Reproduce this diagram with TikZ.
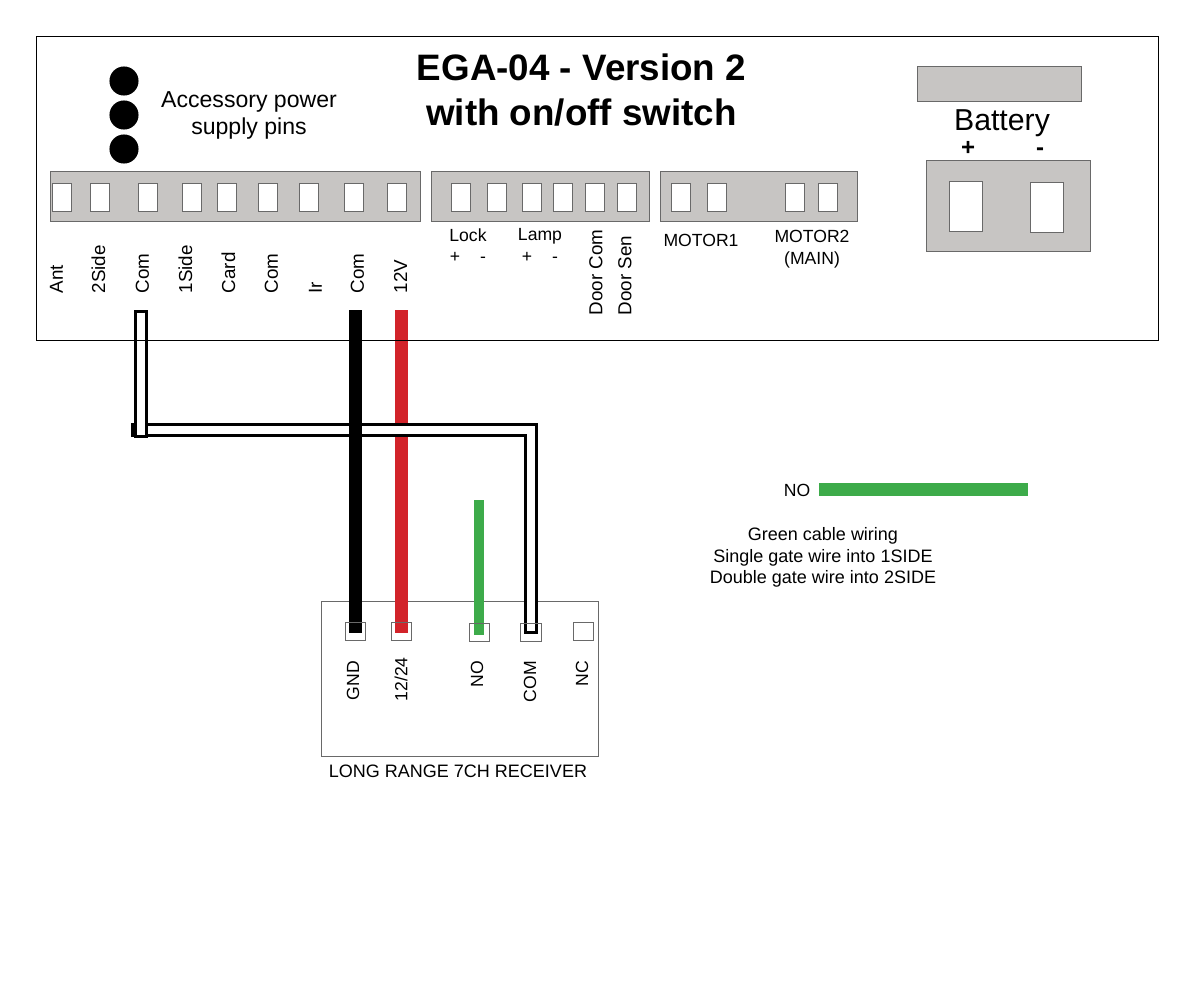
\documentclass[tikz,border=0pt]{standalone}
\usepackage{fontspec}
\setmainfont{Liberation Sans}
\usetikzlibrary{positioning}
\definecolor{stripgray}{RGB}{199, 197, 195}
\definecolor{edgegray}{RGB}{105, 105, 105}
\definecolor{wirered}{RGB}{210, 35, 42}
\definecolor{wiregreen}{RGB}{61, 171, 74}

\begin{document}
\begin{tikzpicture}[
        x=0.75pt, y=-0.75pt,
        strip/.style={rectangle, draw=edgegray, fill=stripgray, line width=0.6pt, inner sep=0pt, outer sep=0pt},
        pin/.style={rectangle, draw=edgegray, fill=white, line width=0.7pt, inner sep=0pt, outer sep=0pt,
                    minimum width=14.6pt, minimum height=21pt},
        battpin/.style={pin, line width=0.5pt, minimum width=24.6pt, minimum height=37.5pt},
        rxpin/.style={pin, fill=none, line width=0.6pt, minimum width=15.4pt, minimum height=13.5pt},
        dot/.style={circle, fill=black, inner sep=0pt, minimum size=21.8pt},
        lab/.style={font=\fontsize{13.2pt}{15.5pt}\selectfont, align=center, inner sep=0pt},
        vlab/.style={lab, font=\fontsize{14.1pt}{16pt}\selectfont, rotate=90, anchor=west},
        rxlab/.style={lab, rotate=90, anchor=east},
        wire/.style={line width=9.8pt},
        wireout/.style={line width=10.4pt, black},
        wirein/.style={line width=6.6pt, white},
    ]
        \useasboundingbox (0,0) rectangle (1200,1000);

        % Control board
        \node[strip, minimum width=277.5pt, minimum height=37.5pt] (strip1) at (235.7,196.7) {};
        \node[strip, minimum width=163.5pt, minimum height=37.5pt] (strip2) at (540.7,196.7) {};
        \node[strip, minimum width=147.8pt, minimum height=37.5pt] (strip3) at (759.2,196.7) {};
        \node[strip, minimum width=123pt, minimum height=26.2pt] (battbar) at (999.7,84.2) {};
        \node[strip, minimum width=123pt, minimum height=68.2pt] (batt) at (1008.7,206.2) {};
        \node[battpin] (battplus) at (965.5,206) {};
        \node[battpin] (battminus) at (1047,207) {};

        \foreach \x/\name in {62/ant, 100/twoside, 148/coma, 192/oneside, 227/card, 268/comb, 309/ir, 354/comc, 397/twelve}
            \node[pin] (\name) at (\x,197) {};
        \foreach \x/\name in {461/lockp, 497/lockm, 532/lampp, 563/lampm, 595/doorcom, 627/doorsen, 681/motoraa, 717/motorab, 795/motorba, 828/motorbb}
            \node[pin] (\name) at (\x,197) {};

        \foreach \y/\name in {81/dota, 115/dotb, 149/dotc}
            \node[dot] (\name) at (124,\y) {};

        \node[font=\bfseries\fontsize{27.6pt}{34pt}\selectfont, align=center, inner sep=0pt] (title) at (581.5,90) {EGA-04 - Version 2\\with on/off switch};
        \node[lab, font=\fontsize{17.3pt}{20.2pt}\selectfont] (access) at (249,115.5) {Accessory power\\supply pins};
        \node[lab, font=\fontsize{22.7pt}{25pt}\selectfont] (battlab) at (1002,123.5) {Battery};
        \node[lab, font=\bfseries\fontsize{18pt}{20pt}\selectfont] (battpluslab) at (968,148) {+};
        \node[lab, font=\bfseries\fontsize{18pt}{20pt}\selectfont] (battminuslab) at (1040,152) {-};

        \foreach \x/\txt/\name in {56.5/Ant/lant, 98.5/2Side/ltwo, 142.5/Com/lcoma, 185.5/1Side/lone, 228.5/Card/lcard, 271.5/Com/lcomb, 315.5/Ir/lir, 357.5/Com/lcomc, 400.5/12V/ltwelve}
            \node[vlab] (\name) at (\x,293.5) {\txt};
        \node[vlab] (ldoorcom) at (596,315.5) {Door Com};
        \node[vlab] (ldoorsen) at (625,315.5) {Door Sen};
        \node[lab] (llock) at (468,235) {Lock};
        \node[lab] (llamp) at (540,236.5) {Lamp};
        \foreach \x/\txt/\y/\name in {455/+/257/lpa, 483/-/260/lma, 527/+/257/lpb, 555/-/260/lmb}
            \node[lab] (\name) at (\x,\y) {\txt};
        \node[lab] (lmotora) at (701,240) {MOTOR1};
        \node[lab, font=\fontsize{13.2pt}{16.4pt}\selectfont] (lmotorb) at (812,249) {MOTOR2\\(MAIN)};

        % Receiver
        \node[strip, fill=none, line width=0.5pt, minimum width=207.8pt, minimum height=116.2pt] (rx) at (460.2,679.2) {};
        \node[rxpin] (rxgnd) at (355.5,631) {};
        \node[rxpin] (rxpwr) at (401.5,631) {};
        \node[rxpin] (rxno) at (479.5,632) {};
        \node[rxpin] (rxcom) at (531,632) {};
        \node[rxpin] (rxnc) at (583.5,631) {};
        \foreach \x/\txt/\y/\name in {353/GND/661/lgnd, 401/12\slash 24/657/lpwr, 477/NO/661/lno, 530/COM/661/lcom, 582/NC/661/lnc}
            \node[rxlab] (\name) at (\x,\y) {\txt};
        \node[lab, font=\fontsize{13.5pt}{15.5pt}\selectfont] (rxlab) at (458,771) {LONG RANGE 7CH RECEIVER};

        % Wires
        \coordinate (topblack) at (355.5,310);
        \coordinate (topred) at (401.5,310);
        \coordinate (topgreen) at (479,500);
        \coordinate (topwhite) at (141,310);
        \coordinate (elbow) at (531,430);
        \coordinate (tail) at (131,430);
        \draw[wire, wirered] (topred) -- (401.5,633);
        \draw[wireout] (tail) -- (elbow) -- (531,633.5);
        \draw[wirein] (135,430) -- (elbow) -- (531,630.5);
        \draw[wireout] (topwhite) -- (141,437.5);
        \draw[wirein] (141,312.5) -- (141,435);
        \draw[wire, black] (topblack) -- (355.5,633);
        \draw[line width=7.5pt, wiregreen] (topgreen) -- (479,635);

        % Redraw pin outlines over the wires
        \foreach \name in {rxgnd, rxpwr, rxno, rxcom}
            \node[rxpin] at (\name) {};

        \draw[black, line width=0.6pt] (36.6,36.6) rectangle (1158.6,340.6);

        % Legend
        \node[lab] (legendno) at (797,490) {NO};
        \coordinate (legenda) at (819,489.5);
        \coordinate (legendb) at (1028,489.5);
        \draw[wire, wiregreen] (legenda) -- (legendb);
        \node[lab, font=\fontsize{13.5pt}{15.9pt}\selectfont] (legendtxt) at (823,557.5) {Green cable wiring\\Single gate wire into 1SIDE\\Double gate wire into 2SIDE};
    \end{tikzpicture}
\end{document}
